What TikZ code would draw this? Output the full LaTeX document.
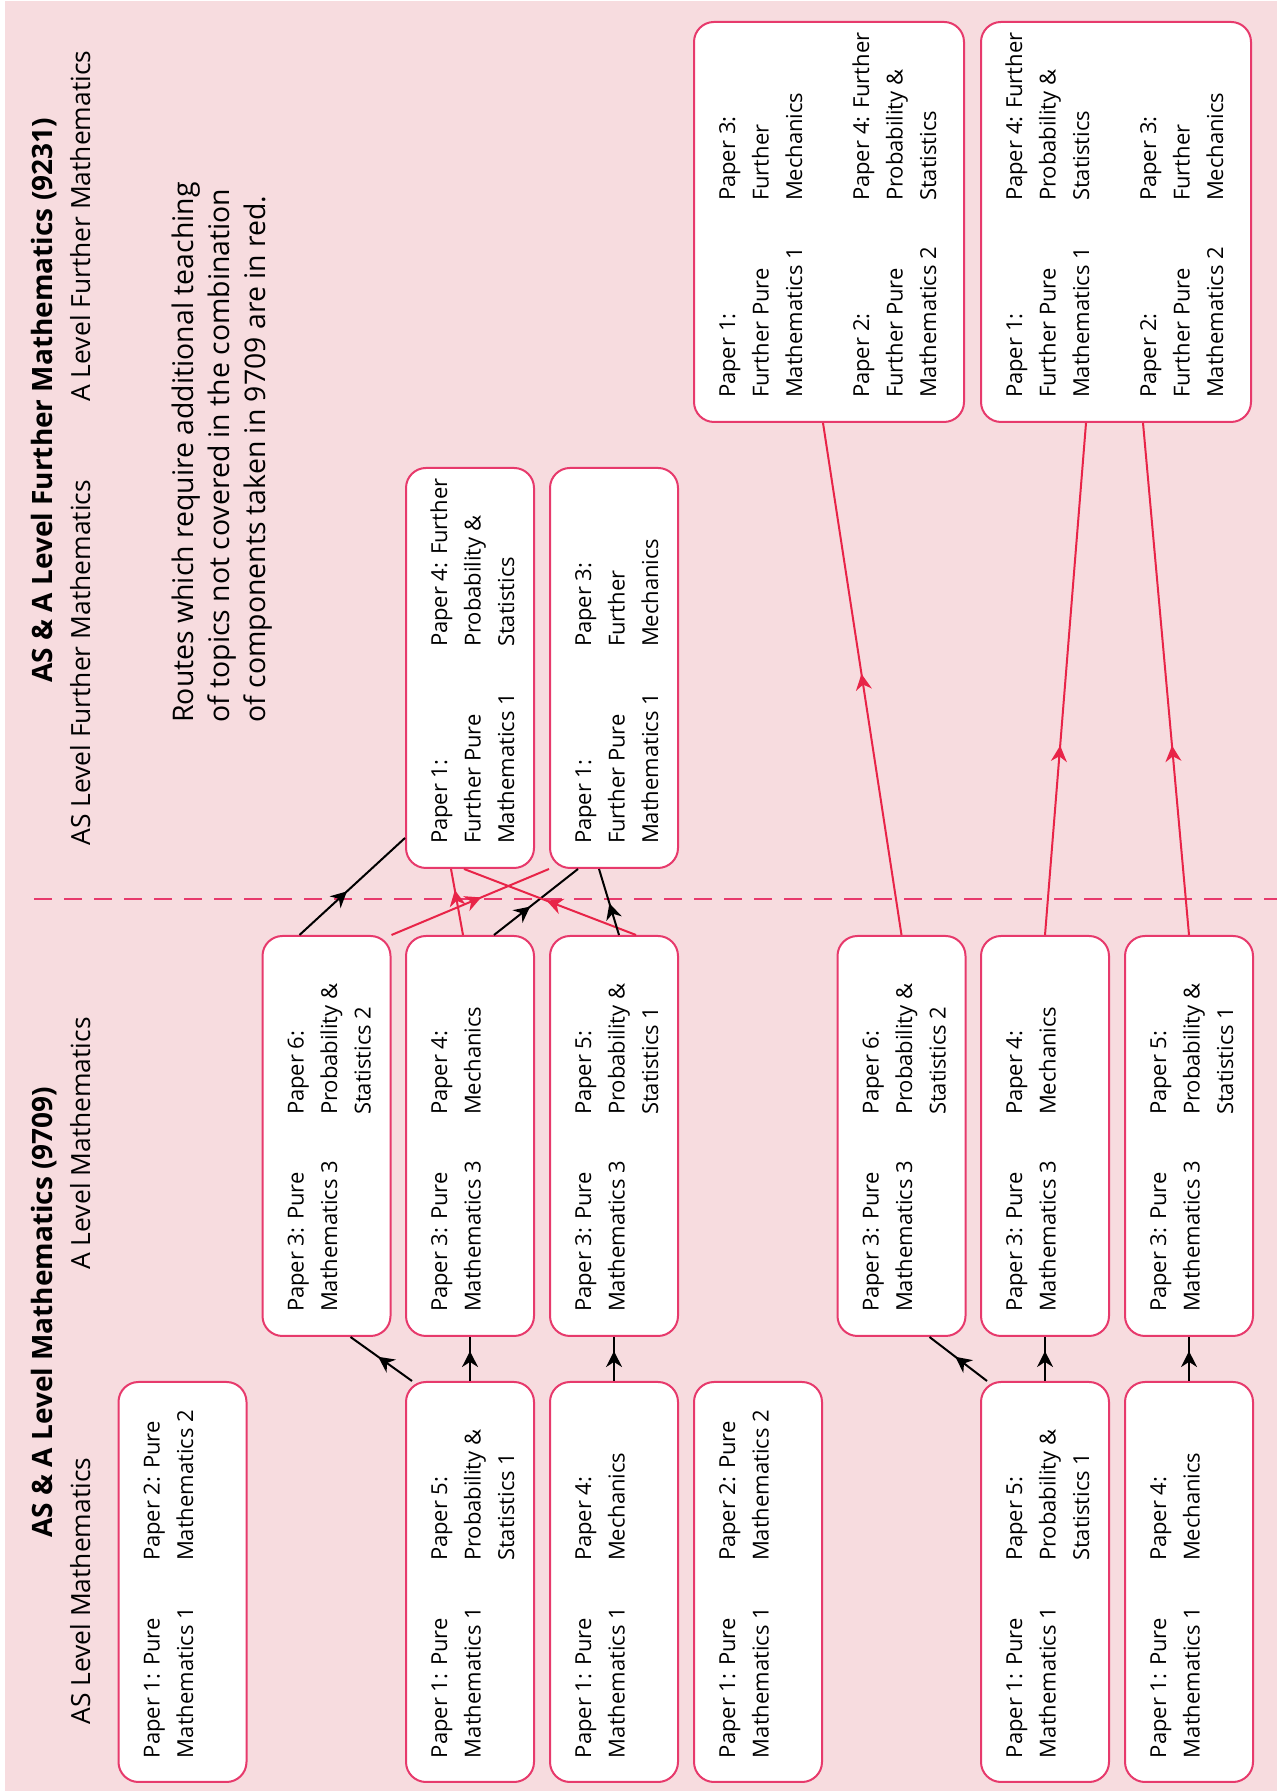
\documentclass[tikz,border=0pt]{standalone}
\usepackage{fontspec}
\setmainfont{Open Sans}
\usetikzlibrary{calc, arrows.meta, decorations.markings}

\definecolor{pagepink}{RGB}{247,220,223}
\definecolor{boxpink}{RGB}{231,58,108}
\definecolor{routered}{RGB}{232,36,72}

\newcommand{\papers}[2]{\makebox[176pt][l]{\makebox[98.5pt][l]{\begin{tabular}[t]{@{}l@{}}#1\end{tabular}}\begin{tabular}[t]{@{}l@{}}#2\end{tabular}}}

\tikzset{
    paper/.style={draw=boxpink, line width=1pt, fill=white, rounded corners=10pt,
        anchor=north west, inner xsep=12pt, inner ysep=0pt,
        text height=20.5pt, text depth=43.5pt, font=\fontsize{11}{16.75}\selectfont},
    bigpaper/.style={paper, text depth=114.5pt},
    heading/.style={anchor=base west, inner sep=0pt, font=\fontsize{13.2}{18}\selectfont},
    title/.style={heading, font=\fontsize{14}{18}\selectfont\bfseries},
    midtip/.style={postaction={decorate, decoration={markings,
        mark=at position #1 with {\arrow{Stealth[length=8pt, width=8pt]}}}}},
    link/.style={line width=1pt, black, midtip=#1},
    link/.default=0.5,
    redlink/.style={line width=1pt, routered, midtip=#1},
    redlink/.default=0.5,
}

\begin{document}
\begin{tikzpicture}[x=0.5pt, y=0.5pt]
\begin{scope}[rotate=90, transform shape]

    \useasboundingbox (0, 0) rectangle (1791, -1277);
    \fill[pagepink] (0, -5) rectangle (1790, -1277);

    % headings
    \node[title] (titleMaths) at (253, -52) {AS \& A Level Mathematics (9709)};
    \node[title] (titleFurther) at (1108, -52) {AS \& A Level Further Mathematics (9231)};
    \node[heading] (headAS) at (66, -90) {AS Level Mathematics};
    \node[heading] (headAL) at (521, -90) {A Level Mathematics};
    \node[heading] (headFAS) at (945, -90) {AS Level Further Mathematics};
    \node[heading] (headFAL) at (1389, -90) {A Level Further Mathematics};
    \node[heading, align=left, font=\fontsize{14.2}{18}\selectfont] (note) at (1068, -265) {Routes which require additional teaching\\of topics not covered in the combination\\of components taken in 9709 are in red.};

    \draw[boxpink, line width=0.8pt, dash pattern=on 9pt off 6pt] (892, -34) -- (892, -1277);

    % AS Level papers
    \node[paper] (asPure) at (8, -117.5) {\papers{Paper 1: Pure\\Mathematics 1}{Paper 2: Pure\\Mathematics 2}};
    \node[paper] (asStatsA) at (8, -405) {\papers{Paper 1: Pure\\Mathematics 1}{Paper 5:\\Probability \&\\Statistics 1}};
    \node[paper] (asMechA) at (8, -549) {\papers{Paper 1: Pure\\Mathematics 1}{Paper 4:\\Mechanics}};
    \node[paper] (asPureB) at (8, -693) {\papers{Paper 1: Pure\\Mathematics 1}{Paper 2: Pure\\Mathematics 2}};
    \node[paper] (asStatsB) at (8, -980) {\papers{Paper 1: Pure\\Mathematics 1}{Paper 5:\\Probability \&\\Statistics 1}};
    \node[paper] (asMechB) at (8, -1124) {\papers{Paper 1: Pure\\Mathematics 1}{Paper 4:\\Mechanics}};

    % A Level papers
    \node[paper] (alPsTwoA) at (454, -261.5) {\papers{Paper 3: Pure\\Mathematics 3}{Paper 6:\\Probability \&\\Statistics 2}};
    \node[paper] (alMechA) at (454, -405) {\papers{Paper 3: Pure\\Mathematics 3}{Paper 4:\\Mechanics}};
    \node[paper] (alPsOneA) at (454, -549) {\papers{Paper 3: Pure\\Mathematics 3}{Paper 5:\\Probability \&\\Statistics 1}};
    \node[paper] (alPsTwoB) at (454, -836.5) {\papers{Paper 3: Pure\\Mathematics 3}{Paper 6:\\Probability \&\\Statistics 2}};
    \node[paper] (alMechB) at (454, -980) {\papers{Paper 3: Pure\\Mathematics 3}{Paper 4:\\Mechanics}};
    \node[paper] (alPsOneB) at (454, -1124) {\papers{Paper 3: Pure\\Mathematics 3}{Paper 5:\\Probability \&\\Statistics 1}};

    % Further Mathematics papers
    \node[paper] (fmStats) at (922, -405) {\papers{Paper 1:\\Further Pure\\Mathematics 1}{Paper 4: Further\\Probability \&\\Statistics}};
    \node[paper] (fmMech) at (922, -549) {\papers{Paper 1:\\Further Pure\\Mathematics 1}{Paper 3:\\Further\\Mechanics}};
    \node[bigpaper] (fmFullA) at (1368, -693) {\papers{Paper 1:\\Further Pure\\Mathematics 1\\ \\Paper 2:\\Further Pure\\Mathematics 2}{Paper 3:\\Further\\Mechanics\\ \\Paper 4: Further\\Probability \&\\Statistics}};
    \node[bigpaper] (fmFullB) at (1368, -980) {\papers{Paper 1:\\Further Pure\\Mathematics 1\\ \\Paper 2:\\Further Pure\\Mathematics 2}{Paper 4: Further\\Probability \&\\Statistics\\ \\Paper 3:\\Further\\Mechanics}};

    % AS to A Level
    \draw[link=0.55] ($(asStatsA.north east)+(0,-7)$) -- ($(alPsTwoA.west)+(0,-24)$);
    \draw[link=0.68] (asStatsA.east) -- (alMechA.west);
    \draw[link=0.68] (asMechA.east) -- (alPsOneA.west);
    \draw[link=0.55] ($(asStatsB.north east)+(0,-7)$) -- ($(alPsTwoB.west)+(0,-28)$);
    \draw[link=0.68] (asStatsB.east) -- (alMechB.west);
    \draw[link=0.68] (asMechB.east) -- (alPsOneB.west);

    % A Level to Further Mathematics
    \draw[link=0.45] ($(alPsTwoA.east)+(0,27)$) -- ($(fmStats.north west)+(31,0)$);
    \draw[redlink=0.57] (alPsTwoA.south east) -- (fmMech.north west);
    \draw[redlink=0.68] ($(alMechA.east)+(0,7)$) -- ($(fmStats.west)+(0,19)$);
    \draw[link=0.43] ($(alMechA.east)+(0,-24)$) -- ($(fmMech.west)+(0,36)$);
    \draw[redlink=0.52] ($(alPsOneA.east)+(0,-22)$) -- ($(fmStats.west)+(0,6)$);
    \draw[link=0.48] ($(alPsOneA.east)+(0,-5)$) -- ($(fmMech.west)+(0,15)$);
    \draw[redlink=0.51] (alPsTwoB.east) -- ($(fmFullA.west)+(0,6)$);
    \draw[redlink=0.37] (alMechB.east) -- ($(fmFullB.west)+(0,30)$);
    \draw[redlink=0.37] (alPsOneB.east) -- ($(fmFullB.west)+(0,-27)$);

\end{scope}
\end{tikzpicture}
\end{document}
